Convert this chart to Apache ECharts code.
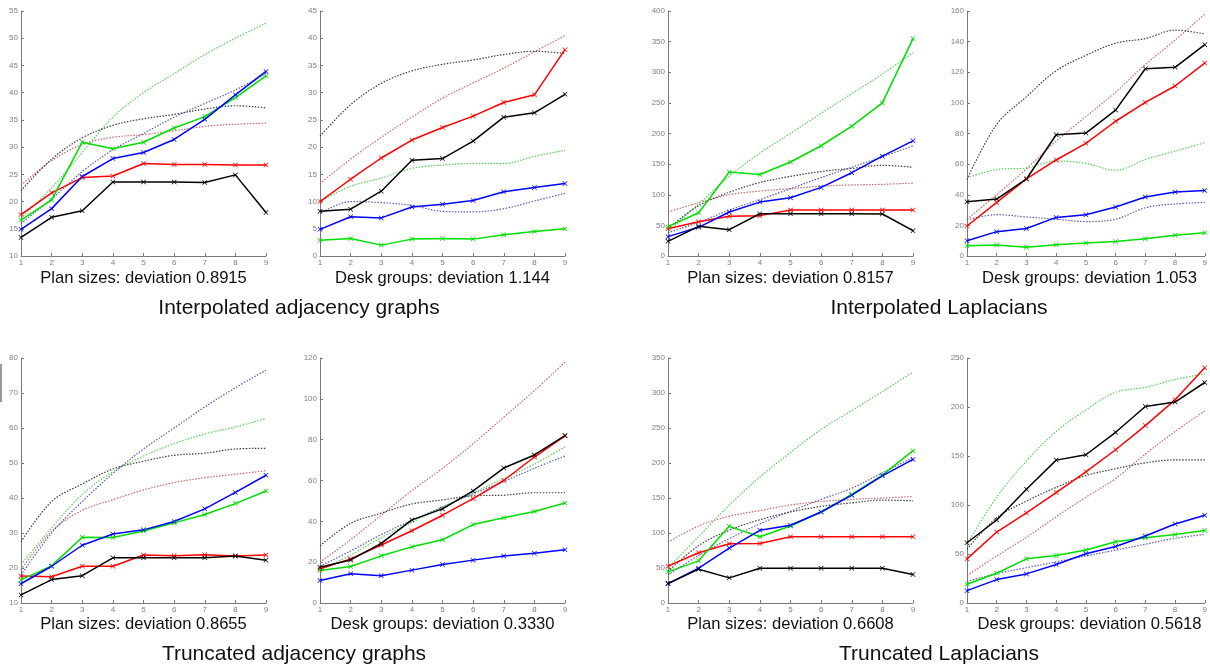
<!DOCTYPE html>
<html>
<head>
<meta charset="utf-8">
<script src="https://cdn.jsdelivr.net/npm/echarts@6/dist/echarts.min.js"></script>
<style>
html,body{margin:0;padding:0;background:#fff;}
#c{width:1210px;height:671px;}
</style>
</head>
<body>
<div id="c"></div>
<script>
const xCats = ['1','2','3','4','5','6','7','8','9'];

// Interpolated adjacency graphs – Plan sizes
const iaPlanRed   = [17.6, 21.6, 24.4, 24.7, 27.0, 26.8, 26.8, 26.7, 26.7];
const iaPlanGreen = [16.6, 20.3, 30.9, 29.7, 30.9, 33.5, 35.6, 39.1, 43.1];
const iaPlanBlue  = [14.9, 18.7, 24.6, 27.9, 29.0, 31.4, 35.1, 39.6, 43.9];
const iaPlanBlack = [13.4, 17.1, 18.3, 23.6, 23.6, 23.6, 23.5, 24.9, 18.0];
const iaPlanRedRef   = [23, 27.5, 30.5, 31.8, 32.3, 33, 33.8, 34.2, 34.4];
const iaPlanGreenRef = [17, 22.5, 29, 35.5, 40, 43.5, 47, 50, 52.8];
const iaPlanBlueRef  = [16, 20.5, 25.5, 29.5, 32.5, 35.5, 38, 40.5, 43.5];
const iaPlanBlackRef = [22, 27.8, 31.7, 34, 35.2, 36, 37, 37.6, 37.2];

// Interpolated adjacency graphs – Desk groups
const iaDeskRed   = [10.0, 14.1, 18.0, 21.3, 23.6, 25.7, 28.2, 29.6, 37.9];
const iaDeskGreen = [2.9, 3.2, 2.0, 3.1, 3.2, 3.1, 3.9, 4.5, 5.0];
const iaDeskBlue  = [4.9, 7.2, 7.0, 9.0, 9.5, 10.2, 11.8, 12.6, 13.3];
const iaDeskBlack = [8.2, 8.6, 11.9, 17.6, 17.9, 21.1, 25.5, 26.3, 29.7];
const iaDeskRedRef   = [13.3, 17.8, 21.8, 25.5, 29, 31.8, 34.5, 37.5, 40.5];
const iaDeskGreenRef = [10, 12.8, 14.3, 16.1, 16.7, 17, 17, 18.3, 19.4];
const iaDeskBlueRef  = [7.8, 10, 9.8, 9.3, 8.2, 8.1, 8.7, 10.1, 11.5];
const iaDeskBlackRef = [22, 27.8, 31.7, 34, 35.2, 36, 37, 37.6, 37.2];

// Interpolated Laplacians – Plan sizes
const ilPlanRed   = [44.6, 56, 64.8, 65.9, 75, 75, 75, 75, 75];
const ilPlanGreen = [47.9, 70.7, 137, 133, 153.5, 180, 212, 250, 355];
const ilPlanBlue  = [31.6, 46.8, 71.8, 88, 95, 112, 136, 163, 188];
const ilPlanBlack = [24, 48.4, 43, 69, 69, 69, 69, 68.6, 41.4];
const ilPlanRedRef   = [72, 87, 100, 106, 110, 114, 116, 117, 119];
const ilPlanGreenRef = [40, 85, 130, 168, 200, 233, 265, 297, 332];
const ilPlanBlueRef  = [38, 55, 75, 92, 110, 128, 145, 162, 180];
const ilPlanBlackRef = [45, 82, 104, 120, 130, 138, 143, 148, 145];

// Interpolated Laplacians – Desk groups
const ilDeskRed   = [19.6, 35, 50.3, 62.7, 73.6, 88, 100.3, 111, 126];
const ilDeskGreen = [6.7, 7.2, 5.7, 7.4, 8.5, 9.4, 11.3, 13.5, 15.2];
const ilDeskBlue  = [10, 15.9, 18, 25.2, 27, 32, 38.5, 41.8, 42.7];
const ilDeskBlack = [35.5, 37.2, 50.3, 79.2, 80.3, 95.3, 122.3, 123.2, 138];
const ilDeskRedRef   = [24, 40, 57, 75, 91, 107, 125, 141, 158];
const ilDeskGreenRef = [51, 56.5, 57.5, 62, 60.5, 56, 63, 68.5, 74];
const ilDeskBlueRef  = [23.5, 27, 25.5, 24, 22.5, 24, 31.5, 34, 35];
const ilDeskBlackRef = [50, 86, 104, 121, 131, 139, 142, 147.5, 145];

// Truncated adjacency graphs – Plan sizes
const taPlanRed   = [17.7, 17.5, 20.5, 20.5, 23.7, 23.5, 23.8, 23.4, 23.7];
const taPlanGreen = [16.6, 20.6, 28.8, 28.7, 30.6, 32.9, 35.3, 38.4, 42.0];
const taPlanBlue  = [15.5, 20.5, 26.5, 29.7, 30.9, 33.3, 36.9, 41.6, 46.5];
const taPlanBlack = [12.3, 16.7, 17.8, 22.9, 22.9, 22.9, 22.9, 23.4, 22.2];
const taPlanRedRef   = [19.5, 30.5, 36.5, 39.5, 42.3, 44.4, 45.8, 46.8, 47.8];
const taPlanGreenRef = [21, 31.5, 41, 47.5, 52, 55.5, 58.3, 60.3, 62.7];
const taPlanBlueRef  = [18, 30, 39, 47, 54, 60, 66, 71.5, 76.5];
const taPlanBlackRef = [27.5, 39, 44, 48.3, 50.5, 52.2, 52.8, 54, 54.2];

// Truncated adjacency graphs – Desk groups
const taDeskRed   = [16.7, 21.6, 28.4, 35.4, 43, 51.1, 60, 71.5, 81.8];
const taDeskGreen = [15.9, 17.9, 23.1, 27.5, 31, 38.4, 41.8, 44.8, 49];
const taDeskBlue  = [11, 14.3, 13.4, 16.1, 18.9, 21, 23, 24.4, 26.1];
const taDeskBlack = [17.5, 21.1, 29.2, 40.7, 46.1, 54.9, 66.1, 72.5, 82];
const taDeskRedRef   = [20, 31, 43, 55, 66, 78, 91, 104, 118];
const taDeskGreenRef = [16, 23.5, 32, 39.5, 47, 54, 61, 68, 76.5];
const taDeskBlueRef  = [18, 25.5, 33.5, 40.5, 47, 53.5, 59.5, 66, 72];
const taDeskBlackRef = [28, 39, 44, 48.5, 50.5, 52.5, 52.8, 54, 54];

// Truncated Laplacians – Plan sizes
const tlPlanRed   = [52.6, 71.7, 84.6, 85.1, 94.7, 94.7, 94.7, 94.7, 94.7];
const tlPlanGreen = [44.5, 60.2, 109.5, 94.7, 110, 130, 155, 182.6, 217.6];
const tlPlanBlue  = [27.7, 49.7, 78.4, 103.8, 111, 130, 154, 181.7, 205.1];
const tlPlanBlack = [27.7, 48.3, 35.9, 49.7, 49.7, 49.7, 49.7, 49.7, 40.6];
const tlPlanRedRef   = [87, 110, 124, 132, 140, 145, 148, 150, 152];
const tlPlanGreenRef = [50, 95, 140, 180, 215, 248, 275, 302, 330];
const tlPlanBlueRef  = [40, 68, 92, 113, 131, 148, 164, 186, 208];
const tlPlanBlackRef = [45, 82, 104, 119, 130, 138, 143, 147, 146];

// Truncated Laplacians – Desk groups
const tlDeskRed   = [45, 72.4, 91.9, 112.7, 133.9, 156.4, 181, 207.3, 240];
const tlDeskGreen = [19.1, 30.4, 45.1, 48.5, 54, 62.5, 66.6, 70, 74];
const tlDeskBlue  = [12.6, 23.9, 29.7, 39.3, 50.2, 57.7, 68.3, 80.6, 89.5];
const tlDeskBlack = [61.5, 84.7, 116, 145.8, 151.3, 174.2, 200.5, 205, 225];
const tlDeskRedRef   = [28, 48, 67, 88, 108, 127, 152, 175, 196];
const tlDeskGreenRef = [60, 108, 145, 175, 197, 215, 220, 228, 234];
const tlDeskBlueRef  = [22, 30, 36, 42, 48, 54, 60, 66, 70];
const tlDeskBlackRef = [55, 87, 104, 118, 130, 137, 143, 146, 146];

const yMins      = [10, 0, 0, 0, 10, 0, 0, 0];
const yMaxs      = [55, 45, 400, 160, 80, 120, 350, 250];
const yIntervals = [5, 5, 50, 20, 10, 20, 50, 50];

const subTitles = [
  'Plan sizes: deviation 0.8915', 'Desk groups: deviation 1.144',
  'Plan sizes: deviation 0.8157', 'Desk groups: deviation 1.053',
  'Plan sizes: deviation 0.8655', 'Desk groups: deviation 0.3330',
  'Plan sizes: deviation 0.6608', 'Desk groups: deviation 0.5618'
];
const groupTitles = ['Interpolated adjacency graphs', 'Interpolated Laplacians',
                     'Truncated adjacency graphs', 'Truncated Laplacians'];

const panelData = [
  [iaPlanRed, iaPlanGreen, iaPlanBlue, iaPlanBlack, iaPlanRedRef, iaPlanGreenRef, iaPlanBlueRef, iaPlanBlackRef],
  [iaDeskRed, iaDeskGreen, iaDeskBlue, iaDeskBlack, iaDeskRedRef, iaDeskGreenRef, iaDeskBlueRef, iaDeskBlackRef],
  [ilPlanRed, ilPlanGreen, ilPlanBlue, ilPlanBlack, ilPlanRedRef, ilPlanGreenRef, ilPlanBlueRef, ilPlanBlackRef],
  [ilDeskRed, ilDeskGreen, ilDeskBlue, ilDeskBlack, ilDeskRedRef, ilDeskGreenRef, ilDeskBlueRef, ilDeskBlackRef],
  [taPlanRed, taPlanGreen, taPlanBlue, taPlanBlack, taPlanRedRef, taPlanGreenRef, taPlanBlueRef, taPlanBlackRef],
  [taDeskRed, taDeskGreen, taDeskBlue, taDeskBlack, taDeskRedRef, taDeskGreenRef, taDeskBlueRef, taDeskBlackRef],
  [tlPlanRed, tlPlanGreen, tlPlanBlue, tlPlanBlack, tlPlanRedRef, tlPlanGreenRef, tlPlanBlueRef, tlPlanBlackRef],
  [tlDeskRed, tlDeskGreen, tlDeskBlue, tlDeskBlack, tlDeskRedRef, tlDeskGreenRef, tlDeskBlueRef, tlDeskBlackRef]
];

// layout
const gridLefts = [21, 320, 668, 967];
const gridTops = [11, 358];
const gridW = 245, gridH = 245;
const solidColors = ['#ff0000', '#00dd00', '#0000ff', '#000000'];
const refColors = ['#cc5555', '#44cc44', '#4a4ab0', '#2a2a2a'];
const xMark = 'path://M0,1L1,0L5,4L9,0L10,1L6,5L10,9L9,10L5,6L1,10L0,9L4,5Z';
const axisGray = '#7a7a7a';

const grids = [], xAxes = [], yAxes = [], series = [], graphics = [];
for (let p = 0; p < 8; p++) {
  const col = p % 4, row = Math.floor(p / 4);
  const left = gridLefts[col], top = gridTops[row];
  grids.push({left: left, top: top, width: gridW, height: gridH, containLabel: false});
  xAxes.push({
    type: 'category', gridIndex: p, data: xCats, boundaryGap: false,
    axisLine: {lineStyle: {color: axisGray, width: 1}},
    axisTick: {inside: true, length: 3, alignWithLabel: true, lineStyle: {color: axisGray}},
    axisLabel: {fontSize: 8, color: '#808080', margin: 3, fontFamily: 'Liberation Sans'},
    splitLine: {show: false}
  });
  yAxes.push({
    type: 'value', gridIndex: p, min: yMins[p], max: yMaxs[p], interval: yIntervals[p],
    axisLine: {show: true, lineStyle: {color: axisGray, width: 1}},
    axisTick: {show: true, inside: true, length: 3, lineStyle: {color: axisGray}},
    axisLabel: {fontSize: 8, color: '#808080', margin: 3, fontFamily: 'Liberation Sans'},
    splitLine: {show: false}
  });
  const d = panelData[p];
  for (let k = 0; k < 4; k++) {
    series.push({
      type: 'line', xAxisIndex: p, yAxisIndex: p, data: d[4 + k],
      smooth: 0.35, symbol: 'none', silent: true, z: 1,
      lineStyle: {color: refColors[k], width: 1.2, type: [1.5, 1.5], opacity: 0.9}
    });
  }
  for (let k = 0; k < 4; k++) {
    series.push({
      type: 'line', xAxisIndex: p, yAxisIndex: p, data: d[k],
      symbol: xMark, symbolSize: 5, showSymbol: true, silent: true, z: 3,
      lineStyle: {color: solidColors[k], width: 1.5},
      itemStyle: {color: solidColors[k]}
    });
  }
  graphics.push({
    type: 'text', x: left + gridW / 2, y: row === 0 ? 278 : 624,
    style: {text: subTitles[p], fontSize: 16.6, fontFamily: 'Liberation Sans', fill: '#111',
            textAlign: 'center', textVerticalAlign: 'middle'}
  });
}
const titleX = [299, 939, 294, 939];
const titleY = [308, 308, 654, 654];
for (let t = 0; t < 4; t++) {
  graphics.push({
    type: 'text', x: titleX[t], y: titleY[t],
    style: {text: groupTitles[t], fontSize: 21, fontFamily: 'Liberation Sans', fill: '#111',
            textAlign: 'center', textVerticalAlign: 'middle'}
  });
}
graphics.push({type: 'rect', shape: {x: 0, y: 364, width: 2, height: 38}, style: {fill: '#999'}});

const chart = echarts.init(document.getElementById('c'), null, {renderer: 'canvas'});
chart.setOption({
  animation: false,
  backgroundColor: '#ffffff',
  grid: grids, xAxis: xAxes, yAxis: yAxes, series: series, graphic: graphics
});
</script>
</body>
</html>
